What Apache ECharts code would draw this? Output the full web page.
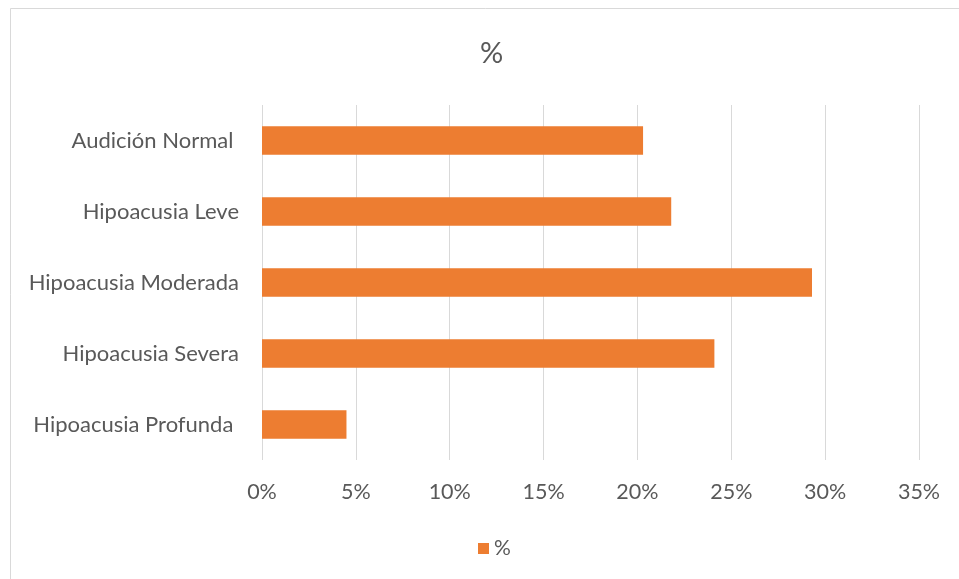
<!DOCTYPE html>
<html>
<head>
<meta charset="utf-8">
<script src="https://cdn.jsdelivr.net/npm/echarts@6/dist/echarts.min.js"></script>
<style>
html,body{margin:0;padding:0;background:#fff;}
#chart{width:959px;height:579px;}
</style>
</head>
<body>
<div id="chart"></div>
<script>
const categories = ["Audición Normal ", "Hipoacusia Leve", "Hipoacusia Moderada", "Hipoacusia Severa", "Hipoacusia Profunda "];
const values = [20.3, 21.8, 29.3, 24.1, 4.5];
const seriesName = "%";
const titleText = "%";

const chart = echarts.init(document.getElementById('chart'), null, {renderer: 'canvas'});
const FONT = 'Lato, "Open Sans", sans-serif';
chart.setOption({
  animation: false,
  backgroundColor: '#fff',
  graphic: [{
    type: 'rect', left: 8, top: 6, silent: true,
    shape: {width: 1000, height: 1000},
    style: {fill: 'none', stroke: '#d9d9d9', lineWidth: 1}
  }],
  title: {
    text: titleText, left: 475, top: 34,
    textStyle: {fontFamily: FONT, fontSize: 29, fontWeight: 'normal', color: '#595959'}
  },
  legend: {
    top: 533, left: 473,
    itemWidth: 11, itemHeight: 11, itemGap: 6,
    icon: 'rect',
    textStyle: {fontFamily: FONT, fontSize: 21, color: '#595959'},
    data: [seriesName]
  },
  grid: {left: 262, right: 40, top: 105, bottom: 119, containLabel: false},
  xAxis: {
    type: 'value', min: 0, max: 35, interval: 5,
    axisLine: {show: false}, axisTick: {show: false},
    splitLine: {show: true, lineStyle: {color: '#d9d9d9', width: 1}},
    axisLabel: {formatter: '{value}%', margin: 21, fontFamily: FONT, fontSize: 21.5, color: '#595959'}
  },
  yAxis: {
    type: 'category', data: categories, inverse: true,
    axisLine: {show: false}, axisTick: {show: false},
    axisLabel: {margin: 23, fontFamily: FONT, fontSize: 22, color: '#595959'}
  },
  series: [{
    name: seriesName, type: 'bar', data: values, barWidth: '40%',
    itemStyle: {color: '#ED7D31'}
  }]
});
</script>
</body>
</html>
